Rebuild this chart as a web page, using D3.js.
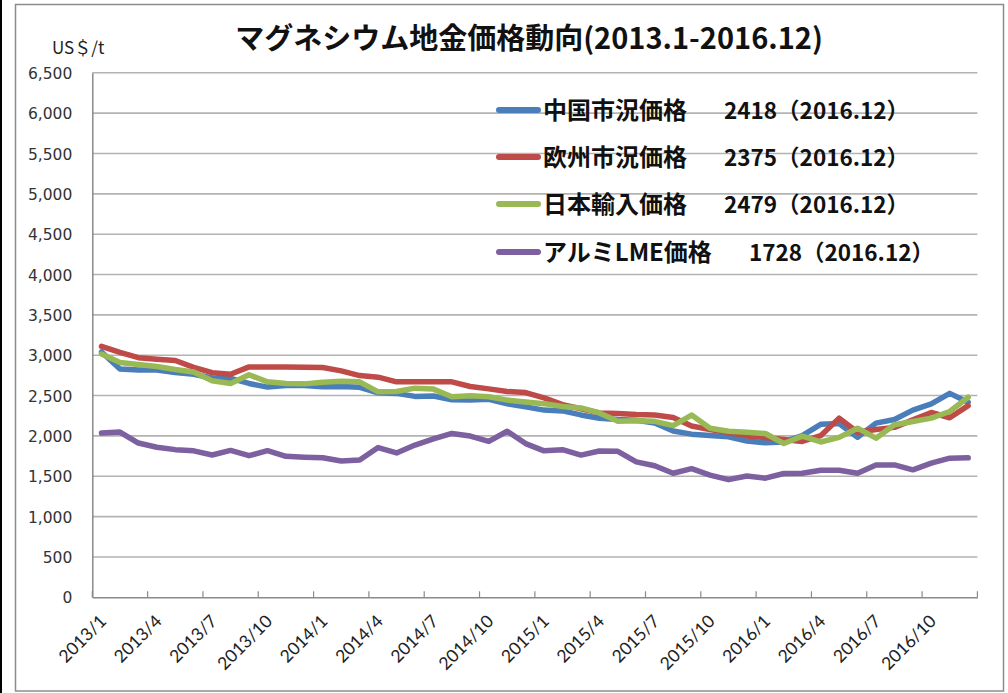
<!DOCTYPE html>
<html><head><meta charset="utf-8">
<script src="https://cdn.jsdelivr.net/npm/d3@7"></script>
<style>html,body{margin:0;padding:0;background:#fff;}svg{display:block;}</style>
</head><body>
<svg id="c" width="1008" height="693"></svg>
<script>
const months = [
"2013/1","2013/2","2013/3","2013/4","2013/5","2013/6","2013/7","2013/8","2013/9","2013/10","2013/11","2013/12",
"2014/1","2014/2","2014/3","2014/4","2014/5","2014/6","2014/7","2014/8","2014/9","2014/10","2014/11","2014/12",
"2015/1","2015/2","2015/3","2015/4","2015/5","2015/6","2015/7","2015/8","2015/9","2015/10","2015/11","2015/12",
"2016/1","2016/2","2016/3","2016/4","2016/5","2016/6","2016/7","2016/8","2016/9","2016/10","2016/11","2016/12"];
const xTickLabels = ["2013/1","2013/4","2013/7","2013/10","2014/1","2014/4","2014/7","2014/10","2015/1","2015/4","2015/7","2015/10","2016/1","2016/4","2016/7","2016/10"];
const yTicks = [0,500,1000,1500,2000,2500,3000,3500,4000,4500,5000,5500,6000,6500];

const chinaPrice = [3040,2830,2818,2818,2785,2765,2718,2712,2650,2605,2625,2625,
 2608,2612,2603,2535,2527,2490,2495,2448,2444,2453,2398,2360,
 2320,2310,2260,2219,2202,2195,2161,2060,2022,2005,1990,1936,
 1914,1925,2004,2144,2154,1983,2158,2204,2320,2396,2527,2418];
const europePrice = [3110,3035,2970,2950,2935,2850,2783,2765,2855,2855,2855,2850,
 2847,2806,2748,2728,2670,2670,2670,2670,2612,2583,2550,2537,
 2472,2388,2337,2285,2278,2265,2260,2228,2123,2078,2041,2000,
 1980,1956,1931,2003,2220,2045,2080,2106,2199,2290,2225,2375];
const japanImport = [3015,2910,2886,2860,2822,2793,2684,2650,2758,2670,2650,2645,
 2665,2676,2670,2546,2550,2592,2580,2485,2499,2485,2444,2420,
 2400,2365,2347,2285,2182,2187,2181,2128,2258,2095,2057,2045,
 2030,1906,1997,1925,1982,2096,1972,2138,2179,2220,2303,2479];
const aluminiumLME = [2035,2048,1912,1860,1830,1815,1763,1820,1755,1817,1747,1737,
 1730,1689,1702,1856,1789,1887,1963,2031,1998,1932,2058,1905,
 1815,1830,1762,1813,1809,1679,1630,1537,1594,1514,1458,1503,
 1476,1534,1538,1575,1575,1538,1641,1641,1580,1662,1724,1728];

const seriesNames = ["中国市況価格","欧州市況価格","日本輸入価格","アルミLME価格"];
const seriesValues = [chinaPrice, europePrice, japanImport, aluminiumLME];
const seriesColors = ["#4a7ebb","#be4b48","#98b954","#7d60a0"];
const lastLabel = "2016.12";

const svg = d3.select("#c");
const L = 92.3, R = 977.4, T = 72.8, B = 597.3;

// outer frame
svg.append("rect").attr("x",15.5).attr("y",4.5).attr("width",988).attr("height",686.5)
  .attr("fill","none").attr("stroke","#8c8c8c").attr("stroke-width",1.5);
svg.append("line").attr("x1",1).attr("x2",1).attr("y1",0).attr("y2",693).attr("stroke","#000").attr("stroke-width",2);

const x = d3.scaleBand().domain(months).range([L,R]);
const y = d3.scaleLinear().domain([0,6500]).range([B,T]);

// gridlines
svg.append("g").selectAll("line").data(yTicks.filter(d=>d>0)).join("line")
  .attr("x1",L).attr("x2",R).attr("y1",d=>y(d)).attr("y2",d=>y(d))
  .attr("stroke","#b3b3b3").attr("stroke-width",1.6);

// y axis
const yAxis = d3.axisLeft(y).tickValues(yTicks).tickSize(0).tickPadding(20)
  .tickFormat(d3.format(","));
const gy = svg.append("g").attr("transform",`translate(${L},0)`).call(yAxis);
gy.select(".domain").attr("stroke","#8a8a8a").attr("stroke-width",1.5);
gy.selectAll("text").attr("font-family","DejaVu Sans").attr("font-size",15.5).attr("fill","#333")
  .attr("dy","0.36em");

// x axis
const xAxis = d3.axisBottom(x).tickValues(xTickLabels).tickSize(0).tickPadding(0);
const gx = svg.append("g").attr("transform",`translate(0,${B})`).call(xAxis);
gx.select(".domain").attr("stroke","#8a8a8a").attr("stroke-width",1.5);
gx.selectAll(".tick line").remove();
gx.selectAll(".tick text")
  .attr("font-family","Lato").attr("font-size",17.5).attr("fill","#222")
  .attr("text-anchor","end").attr("y",0).attr("dy",0)
  .attr("transform","translate(6,25) rotate(-45)");
// tick marks at category boundaries
const tickPos = xTickLabels.map(m=>x(m)).concat([R]);
svg.append("g").selectAll("line").data(tickPos).join("line")
  .attr("x1",d=>d).attr("x2",d=>d).attr("y1",B).attr("y2",B-6)
  .attr("stroke","#8a8a8a").attr("stroke-width",1.2);

// lines
const line = d3.line().x((d,i)=>x(months[i])+x.bandwidth()/2).y(d=>y(d));
svg.append("g").selectAll("path").data(seriesValues).join("path")
  .attr("d",d=>line(d)).attr("fill","none")
  .attr("stroke",(d,i)=>seriesColors[i]).attr("stroke-width",5.5)
  .attr("stroke-linejoin","round").attr("stroke-linecap","round");

// title
svg.append("text").attr("x",529).attr("y",49).attr("text-anchor","middle")
  .attr("font-family","Noto Sans CJK JP").attr("font-weight","bold").attr("font-size",29)
  .attr("fill","#111").text("マグネシウム地金価格動向(2013.1-2016.12)");
svg.append("text").attr("x",52).attr("y",54)
  .attr("font-family","Noto Sans CJK JP").attr("font-size",17).attr("fill","#222").text("US＄/t");

// legend
const legY = [110,157,204,252];
const leg = svg.append("g").selectAll("g").data(seriesNames).join("g")
  .attr("transform",(d,i)=>`translate(0,${legY[i]})`);
leg.append("line").attr("x1",499).attr("x2",538).attr("y1",0).attr("y2",0)
  .attr("stroke",(d,i)=>seriesColors[i]).attr("stroke-width",6).attr("stroke-linecap","round");
const lt = leg.append("text").attr("x",543).attr("y",8.5)
  .attr("font-family","Noto Sans CJK JP").attr("font-weight","bold").attr("font-size",24).attr("fill","#111");
lt.append("tspan").text(d=>d);
lt.append("tspan").attr("dx",37).attr("font-size",22.5)
  .text((d,i)=>{const v=seriesValues[i]; return v[v.length-1]+"（"+lastLabel+"）";});
</script>
</body></html>
